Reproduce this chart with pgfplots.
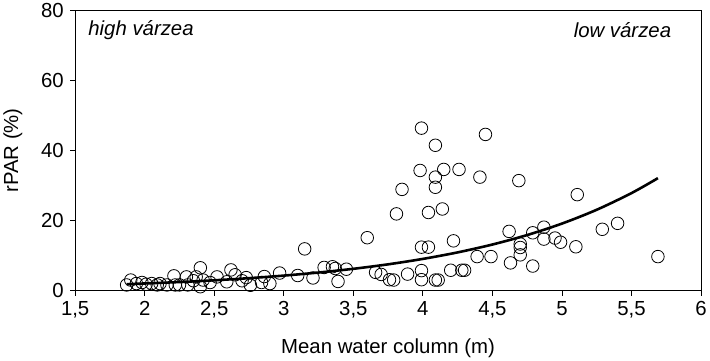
\documentclass[border=0pt]{standalone}
\usepackage{pgfplots}
\pgfplotsset{compat=1.18}
\usepackage{fontspec}
\setmainfont{Liberation Sans}
\begin{document}
\begin{tikzpicture}[font=\fontsize{20.5}{24}\selectfont]
\begin{axis}[
  scale only axis,
  width=628bp, height=281bp,
  xmin=1.5, xmax=6, ymin=0, ymax=80,
  xtick={1.5,2,2.5,3,3.5,4,4.5,5,5.5,6},
  xticklabels={{1,5},2,{2,5},3,{3,5},4,{4,5},5,{5,5},6},
  ytick={0,20,40,60,80},
  tick align=outside,
  xtick pos=bottom, ytick pos=left,
  major tick length=5bp,
  axis line style={line width=0.9pt, black},
  every tick/.style={line width=0.9pt, black},
  /pgf/number format/assume math mode=true,
  xticklabel style={yshift=-2bp},
  yticklabel style={xshift=-3bp},
  xlabel={Mean water column (m)},
  ylabel={rPAR (\%)},
  xlabel style={yshift=-14bp},
  ylabel style={yshift=12bp},
  clip=false,
]
\addplot[only marks, mark=o, mark size=6.3bp, mark options={line width=0.8pt, black}] table {
x y
1.87 1.6
1.90 3.0
1.94 2.0
1.98 2.3
2.01 1.8
2.05 2.0
2.09 1.6
2.11 2.0
2.16 1.6
2.21 4.2
2.22 1.6
2.25 1.6
2.30 3.9
2.31 1.6
2.35 2.8
2.37 3.9
2.40 6.5
2.40 1.1
2.42 3.0
2.47 2.3
2.52 3.9
2.59 2.5
2.62 5.9
2.65 4.5
2.70 2.8
2.73 3.7
2.76 1.5
2.84 2.3
2.86 4.0
2.90 2.0
2.97 5.0
3.10 4.3
3.15 11.9
3.21 3.6
3.29 6.6
3.35 6.8
3.37 6.3
3.39 2.6
3.45 6.1
3.60 15.1
3.66 5.2
3.70 4.6
3.76 3.1
3.79 3.0
3.81 21.9
3.85 28.9
3.89 4.7
3.98 34.3
3.99 46.4
3.99 12.4
3.99 5.7
3.99 3.1
4.04 12.4
4.04 22.3
4.09 41.5
4.09 32.4
4.09 29.5
4.09 3.0
4.11 3.0
4.14 23.3
4.15 34.6
4.20 5.8
4.22 14.2
4.26 34.6
4.28 5.8
4.30 5.8
4.39 9.7
4.41 32.4
4.45 44.6
4.49 9.7
4.62 16.9
4.63 7.9
4.69 31.4
4.70 13.3
4.70 12.3
4.70 10.2
4.79 7.0
4.79 16.5
4.87 18.1
4.87 14.7
4.95 15.0
4.99 13.8
5.10 12.5
5.11 27.4
5.29 17.5
5.40 19.2
5.69 9.7
};
\addplot[black, line width=2.6pt, smooth] table {
x y
1.87 1.83
2.00 2.02
2.25 2.43
2.50 2.93
2.75 3.54
3.00 4.27
3.25 5.15
3.50 6.21
3.75 7.49
4.00 9.04
4.25 10.90
4.50 13.15
4.75 15.86
5.00 19.13
5.25 23.08
5.50 27.84
5.69 32.11
};
\node[anchor=west, font=\fontsize{20.5}{24}\selectfont\itshape] at (axis cs:1.57,74.5) {high várzea};
\node[anchor=east, font=\fontsize{20.5}{24}\selectfont\itshape] at (axis cs:5.81,74.5) {low várzea};
\end{axis}
\end{tikzpicture}
\end{document}
